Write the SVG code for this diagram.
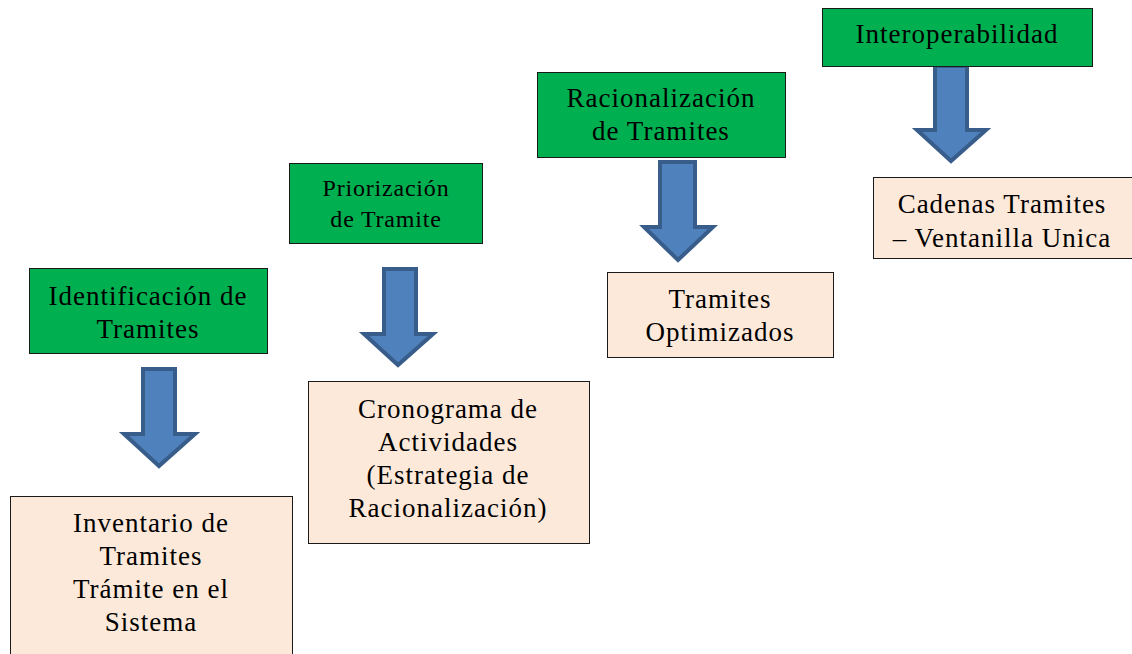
<svg xmlns="http://www.w3.org/2000/svg" width="1132" height="654" viewBox="0 0 1132 654">
<style>
.g{fill:#00B050;stroke:#1a1a1a;stroke-width:1}
.o{fill:#FDE9D9;stroke:#1a1a1a;stroke-width:1}
.a{fill:#4F81BD;stroke:#385D8A;stroke-width:4;stroke-linejoin:miter}
text{font-family:"Liberation Serif","Times New Roman",serif;font-size:27px;letter-spacing:1px;fill:#000;text-anchor:middle}
.s{font-size:24px;letter-spacing:0.8px}
</style>
<rect width="1132" height="654" fill="#fff"/>
<g id="connectors">
<path class="a" d="M143,369 H175 V434 H195 L159,466 L124,434 H143 Z"/>
<path class="a" d="M384,269 H416 V334 H433 L398,365 L364,334 H384 Z"/>
<path class="a" d="M660,162 H695 V227 H713 L678,260 L644,227 H660 Z"/>
<path class="a" d="M935,66 H967 V130 H986 L951,161 L917,130 H935 Z"/>
</g>
<g id="n1"><rect class="g" x="29.5" y="268.5" width="238" height="85"/><text x="148" y="305">Identificación de</text><text x="148" y="338">Tramites</text></g>
<g id="n2"><rect class="g" x="289.5" y="163.5" width="193" height="80"/><text class="s" x="386" y="196">Priorización</text><text class="s" x="386" y="227">de Tramite</text></g>
<g id="n3"><rect class="g" x="537.5" y="72.5" width="248" height="85"/><text x="661" y="107">Racionalización</text><text x="661" y="140">de Tramites</text></g>
<g id="n4"><rect class="g" x="822.5" y="8.5" width="270" height="58"/><text x="957" y="43">Interoperabilidad</text></g>
<g id="o1"><rect class="o" x="10.5" y="496.5" width="282" height="170"/><text x="151" y="532">Inventario de</text><text x="151" y="565">Tramites</text><text x="151" y="598">Trámite en el</text><text x="151" y="631">Sistema</text></g>
<g id="o2"><rect class="o" x="308.5" y="381.5" width="281" height="162"/><text x="448" y="418">Cronograma de</text><text x="448" y="451">Actividades</text><text x="448" y="484">(Estrategia de</text><text x="448" y="517">Racionalización)</text></g>
<g id="o3"><rect class="o" x="607.5" y="272.5" width="226" height="85"/><text x="720" y="308">Tramites</text><text x="720" y="341">Optimizados</text></g>
<g id="o4"><rect class="o" x="873.5" y="177.5" width="265" height="81"/><text x="1002" y="213">Cadenas Tramites</text><text x="1002" y="247">– Ventanilla Unica</text></g>
</svg>
